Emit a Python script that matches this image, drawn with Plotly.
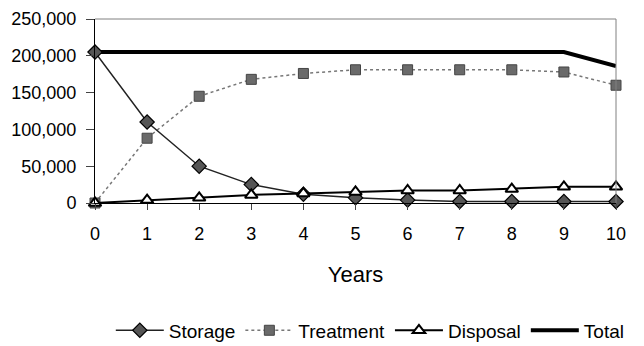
import plotly.graph_objects as go

years = list(range(11))
storage = [205000, 110000, 50000, 25000, 12000, 7000, 4000, 2000, 2000, 2000, 2000]
treatment = [0, 88000, 145000, 168000, 176000, 181000, 181000, 181000, 181000, 178000, 160000]
disposal = [0, 4000, 7000, 11000, 13000, 15000, 17000, 17000, 19000, 22000, 22000]
total = [205000, 205000, 205000, 205000, 205000, 205000, 205000, 205000, 205000, 205000, 186000]
yticks = [0, 50000, 100000, 150000, 200000, 250000]

fig = go.Figure()
fig.add_trace(go.Scatter(x=years, y=total, name="Total", mode="lines",
                         line=dict(color="black", width=4), showlegend=True, legendrank=4))
fig.add_trace(go.Scatter(x=years, y=treatment, name="Treatment", mode="lines+markers",
                         line=dict(color="#777777", width=1.5, dash="dot"),
                         marker=dict(symbol="square", size=10, color="#6a6a6a",
                                     line=dict(color="#444444", width=1)),
                         cliponaxis=False, legendrank=2))
fig.add_trace(go.Scatter(x=years, y=storage, name="Storage", mode="lines+markers",
                         line=dict(color="#222222", width=1.5),
                         marker=dict(symbol="diamond", size=11, color="#555555",
                                     line=dict(color="black", width=1.2)),
                         cliponaxis=False, legendrank=1))
fig.add_trace(go.Scatter(x=years, y=disposal, name="Disposal", mode="lines+markers",
                         line=dict(color="black", width=2),
                         marker=dict(symbol="triangle-up", size=11, color="white",
                                     line=dict(color="black", width=2)),
                         cliponaxis=False, legendrank=3))

fig.update_layout(
    width=644, height=346,
    margin=dict(l=95, r=28, t=19, b=143, autoexpand=False),
    paper_bgcolor="white", plot_bgcolor="white",
    font=dict(family="Arial, Liberation Sans, sans-serif", size=18, color="black"),
    showlegend=True,
    legend=dict(orientation="h", x=0.575, xanchor="center", xref="container",
                y=0.045, yanchor="middle", yref="container",
                font=dict(size=19), traceorder="normal", itemwidth=48),
    shapes=[
        dict(type="line", xref="paper", yref="paper", x0=0, x1=1, y0=1, y1=1,
             line=dict(color="#808080", width=1)),
        dict(type="line", xref="paper", yref="paper", x0=1, x1=1, y0=0, y1=1,
             line=dict(color="#808080", width=1)),
    ],
)
fig.update_xaxes(range=[0, 10], tickvals=years, ticks="outside", ticklen=6,
                 ticklabelstandoff=8, automargin=False,
                 showline=True, linecolor="black", linewidth=1, showgrid=False,
                 zeroline=False, title=dict(text="Years", standoff=24))
fig.update_yaxes(range=[0, 250000], tickvals=yticks, tickformat=",", ticks="outside",
                 ticklen=8, ticklabelstandoff=6, automargin=False,
                 showline=True, linecolor="black", linewidth=1,
                 showgrid=False, zeroline=False)

fig.write_html("out.html")
